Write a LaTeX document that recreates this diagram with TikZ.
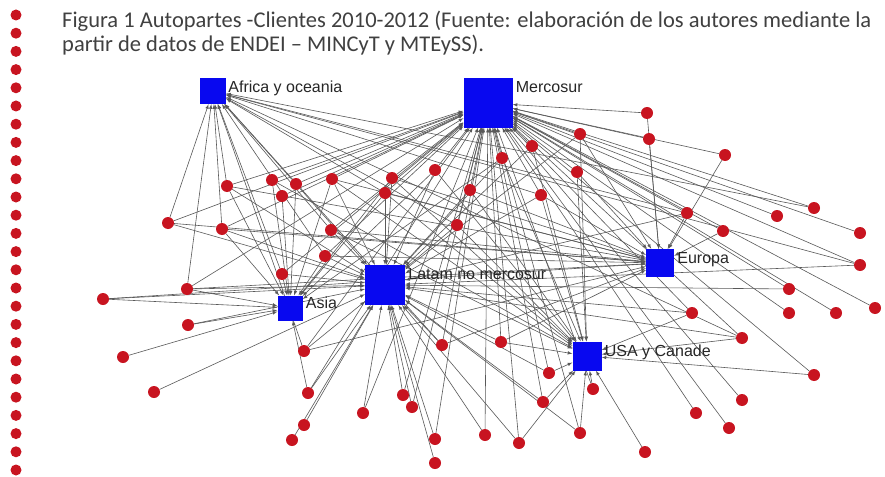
\documentclass[tikz,border=0pt]{standalone}
\usepackage{fontspec}
\setmainfont{Liberation Sans}
\newfontfamily\captionfont{Carlito}
\usetikzlibrary{arrows, positioning}
\definecolor{dot_red}{HTML}{C81420}
\colorlet{dotred}{dot_red}
\definecolor{reg_blue}{HTML}{0808F0}
\colorlet{regblue}{reg_blue}
\tikzset{
  region/.style={rectangle,fill=regblue,inner sep=0pt,minimum size=#1},
  client/.style={circle,fill=dotred,inner sep=0pt,minimum size=12pt},
  regionlabel/.style={font=\fontsize{16}{19}\selectfont,text=black!85,inner sep=1pt},
  link/.style={-latex,black!65,line width=0.6pt},
  caption/.style={font=\captionfont\fontsize{22.5}{26}\selectfont,text=black!75,inner sep=0pt},
}
\pgfdeclarelayer{back}
\pgfsetlayers{back,main}

\begin{document}
\begin{tikzpicture}[x=1pt,y=-1pt]
	    \useasboundingbox (0,0) rectangle (885,476);
	    \begin{pgfonlayer}{back}
	      \fill[white] (0,0) rectangle (885,476);
	    \end{pgfonlayer}
	    % dotted border on the left
	    \foreach \i in {0,...,25}
	      \fill[dotred] (16,{15+18.2*\i}) circle (5.5pt);
	    \node[caption,anchor=base west] (title) at (62,28) {Figura 1 Autopartes -Clientes 2010-2012 (Fuente: elaboración de los autores mediante la};
	    \node[caption,anchor=base west] (subtitle) at (62,52) {partir de datos de ENDEI – MINCyT y MTEySS).};
	    % regions
	    \node[region=26pt] (africa) at (213,91) {};
	    \node[region=49pt] (mercosur) at (488,103) {};
	    \node[region=40pt] (latam) at (385,285) {};
	    \node[region=25pt] (asia) at (290,308) {};
	    \node[region=28pt] (europa) at (660,263) {};
	    \node[region=29pt] (usa) at (587,356) {};
	    \node[regionlabel,right=1pt of africa,yshift=3pt] {Africa y oceania};
	    \node[regionlabel,right=2pt of mercosur,yshift=16pt] {Mercosur};
	    \node[regionlabel,right=2pt of latam,yshift=11pt] {Latam no mercosur};
	    \node[regionlabel,right=2pt of asia,yshift=5pt] {Asia};
	    \node[regionlabel,right=2pt of europa,yshift=3pt] {Europa};
	    \node[regionlabel,right=2pt of usa,yshift=4pt] {USA y Canade};
	    % clients
	    \node[client] (c1) at (647,113) {};
	    \node[client] (c2) at (649,139) {};
	    \node[client] (c3) at (725,155) {};
	    \node[client] (c4) at (580,134) {};
	    \node[client] (c5) at (532,146) {};
	    \node[client] (c6) at (502,158) {};
	    \node[client] (c7) at (577,172) {};
	    \node[client] (c8) at (435,170) {};
	    \node[client] (c9) at (470,190) {};
	    \node[client] (c10) at (541,195) {};
	    \node[client] (c11) at (457,225) {};
	    \node[client] (c12) at (392,178) {};
	    \node[client] (c13) at (385,193) {};
	    \node[client] (c14) at (332,179) {};
	    \node[client] (c15) at (296,184) {};
	    \node[client] (c16) at (272,180) {};
	    \node[client] (c17) at (227,186) {};
	    \node[client] (c18) at (282,196) {};
	    \node[client] (c19) at (168,223) {};
	    \node[client] (c20) at (222,229) {};
	    \node[client] (c21) at (331,230) {};
	    \node[client] (c22) at (325,256) {};
	    \node[client] (c23) at (282,274) {};
	    \node[client] (c24) at (687,213) {};
	    \node[client] (c25) at (723,231) {};
	    \node[client] (c26) at (777,216) {};
	    \node[client] (c27) at (814,208) {};
	    \node[client] (c28) at (860,233) {};
	    \node[client] (c29) at (860,265) {};
	    \node[client] (c30) at (789,289) {};
	    \node[client] (c31) at (692,313) {};
	    \node[client] (c32) at (789,313) {};
	    \node[client] (c33) at (836,313) {};
	    \node[client] (c34) at (875,308) {};
	    \node[client] (c35) at (742,338) {};
	    \node[client] (c36) at (814,375) {};
	    \node[client] (c37) at (742,400) {};
	    \node[client] (c38) at (696,413) {};
	    \node[client] (c39) at (729,428) {};
	    \node[client] (c40) at (645,452) {};
	    \node[client] (c41) at (103,299) {};
	    \node[client] (c42) at (187,289) {};
	    \node[client] (c43) at (188,325) {};
	    \node[client] (c44) at (123,357) {};
	    \node[client] (c45) at (154,392) {};
	    \node[client] (c46) at (304,351) {};
	    \node[client] (c47) at (308,393) {};
	    \node[client] (c48) at (304,425) {};
	    \node[client] (c49) at (292,440) {};
	    \node[client] (c50) at (363,413) {};
	    \node[client] (c51) at (403,395) {};
	    \node[client] (c52) at (412,407) {};
	    \node[client] (c53) at (442,345) {};
	    \node[client] (c54) at (501,342) {};
	    \node[client] (c55) at (549,373) {};
	    \node[client] (c56) at (593,389) {};
	    \node[client] (c57) at (543,402) {};
	    \node[client] (c58) at (435,439) {};
	    \node[client] (c59) at (435,463) {};
	    \node[client] (c60) at (485,435) {};
	    \node[client] (c61) at (519,443) {};
	    \node[client] (c62) at (580,433) {};
	    % links, client -> region
	    \begin{pgfonlayer}{back}
	      \foreach \c in {1,...,39,42,46,47,50,51,52,53,54,55,56,57,58,60,61,62}
	        \draw[link] (c\c) -- (mercosur);
	      \foreach \c in {4,5,6,8,9,10,11,12,13,14,15,17,19,20,21,22,23,24,29,30,31,35,41,42,43,45,46,47,48,49,50,51,52,53,54,55,57,58,59,60,61,62}
	        \draw[link] (c\c) -- (latam);
	      \foreach \c in {6,8,12,13,14,15,16,17,18,20,22,23,41,42,43,44,47}
	        \draw[link] (c\c) -- (asia);
	      \foreach \c in {1,2,3,4,7,9,10,12,13,14,17,19,20,21,22,24,25,41,42,46,53,54}
	        \draw[link] (c\c) -- (europa);
	      \foreach \c in {4,5,6,7,8,9,10,11,12,13,14,16,21,31,35,36,40,54,55,56,57,61,62}
	        \draw[link] (c\c) -- (usa);
	      \foreach \c in {10,11,13,15,17,19,20,21,22,23,24,27,29,35,42,46,53}
	        \draw[link] (c\c) -- (africa);
	    \end{pgfonlayer}
\end{tikzpicture}
\end{document}
